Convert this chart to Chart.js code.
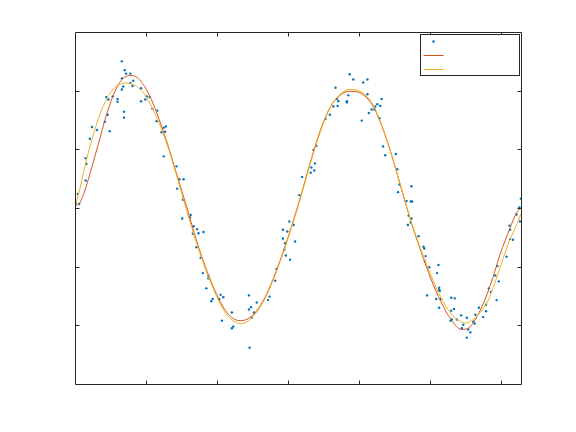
<!DOCTYPE html>
<html>
<head>
<meta charset="utf-8">
<script src="https://cdn.jsdelivr.net/npm/chart.js@4/dist/chart.umd.min.js"></script>
<style>
html,body{margin:0;padding:0;background:#fff;}
#wrap{width:576px;height:432px;}
</style>
</head>
<body>
<div id="wrap"><canvas id="c" width="576" height="432"></canvas></div>
<script>
// Scatter data
const xData = [0.01,0.04,0.06,0.15,0.16,0.15,0.21,0.24,0.31,0.42,
0.49,0.44,0.46,0.47,0.53,0.60,0.60,0.66,0.66,0.70,
0.72,0.78,0.66,0.68,0.69,0.69,0.78,0.82,0.81,0.93,
0.93,0.99,1.01,1.05,1.09,1.16,1.15,1.25,1.28,1.27,
1.22,1.25,1.43,1.47,1.53,1.44,1.52,1.51,1.63,1.62,
1.67,1.72,1.74,1.81,1.66,1.71,1.77,1.80,1.88,1.88,
1.85,1.94,1.92,2.03,2.05,2.09,2.07,2.21,2.21,2.23,
2.45,2.48,2.45,2.52,2.49,2.56,2.46,2.72,2.74,2.82,
2.84,2.93,2.93,2.96,2.95,2.97,3.03,2.99,3.02,3.08,
3.10,3.16,3.20,3.32,3.33,3.37,3.38,3.36,3.40,3.53,
3.59,3.64,3.70,3.69,3.71,3.67,3.83,3.85,3.83,3.87,
3.92,4.06,4.12,4.12,4.14,4.04,4.18,4.22,4.23,4.26,
4.30,4.32,4.29,4.34,4.37,4.52,4.54,4.57,4.55,4.74,
4.67,4.73,4.75,4.70,4.69,4.74,4.73,4.84,4.91,4.92,
4.94,4.93,4.99,4.96,5.10,5.12,5.13,5.13,5.14,5.09,
5.13,5.15,5.30,5.35,5.30,5.34,5.31,5.29,5.38,5.44,
5.47,5.52,5.45,5.54,5.52,5.57,5.64,5.61,5.63,5.69,
5.75,5.79,5.79,5.83,5.86,5.94,5.92,5.95,5.97,6.08,
6.13,6.12,6.13,6.17,6.22,6.26,6.28,6.27];
const yData = [0.08,0.24,0.07,0.85,0.75,0.47,1.18,1.38,1.33,1.47,
1.31,1.89,1.59,1.85,1.90,1.86,1.81,2.50,2.21,2.35,
2.29,2.29,2.02,2.07,1.64,1.54,2.13,2.17,2.08,2.04,
1.82,1.85,1.90,1.89,1.69,1.66,1.48,1.37,1.39,1.30,
1.29,0.88,0.71,0.49,0.49,0.33,0.14,-0.18,-0.12,-0.16,
-0.31,-0.36,-0.43,-0.41,-0.44,-0.67,-0.85,-1.11,-1.16,-1.20,
-1.37,-1.55,-1.59,-1.55,-1.48,-1.52,-1.92,-1.78,-2.05,-2.02,
-1.49,-1.69,-1.73,-1.78,-1.87,-1.61,-2.38,-1.57,-1.51,-1.24,
-1.04,-0.37,-0.52,-0.60,-0.71,-0.81,-0.88,-0.40,-0.23,-0.29,
-0.57,0.22,0.53,0.60,0.69,0.64,0.76,0.99,1.06,1.52,
1.59,1.73,1.74,1.86,1.82,2.05,1.80,1.92,1.82,2.28,
2.19,2.14,2.19,1.94,1.62,1.49,1.68,1.68,1.73,1.77,
1.74,1.86,1.53,1.05,0.90,0.92,0.66,0.40,0.27,0.37,
0.12,0.11,0.11,-0.13,-0.29,-0.18,-0.25,-0.48,-0.66,-0.69,
-0.82,-0.91,-1.01,-1.49,-1.11,-0.97,-1.36,-1.40,-1.41,-1.55,
-1.70,-1.55,-1.53,-1.54,-1.75,-1.72,-1.90,-1.92,-1.90,-1.83,
-1.99,-1.87,-2.05,-2.07,-2.21,-2.12,-1.82,-1.94,-1.97,-1.70,
-1.86,-1.76,-1.65,-1.37,-1.43,-1.57,-1.15,-0.99,-1.25,-0.83,
-0.53,-0.30,-0.37,-0.54,-0.11,0.01,0.16,-0.23];

// Fit curve 1 (red)
const redX = [0.000,0.066,0.137,0.207,0.278,0.349,0.419,0.490,0.560,0.630,0.701,0.785,0.870,0.954,1.053,1.152,1.293,1.434,1.575,1.716,1.857,1.998,2.110,2.223,2.336,2.449,2.561,2.674,2.787,2.900,3.041,3.182,3.323,3.464,3.605,3.746,3.859,3.972,4.084,4.197,4.310,4.451,4.592,4.733,4.874,5.015,5.156,5.297,5.445,5.551,5.664,5.776,5.847,5.917,5.988,6.058,6.129,6.213,6.283];
const redY = [0.03,0.09,0.29,0.57,0.87,1.18,1.49,1.76,1.98,2.14,2.23,2.26,2.23,2.12,1.91,1.62,1.13,0.57,0.01,-0.57,-1.07,-1.48,-1.73,-1.88,-1.92,-1.88,-1.75,-1.53,-1.22,-0.86,-0.35,0.21,0.81,1.35,1.74,1.93,1.99,1.98,1.91,1.74,1.44,0.94,0.35,-0.23,-0.74,-1.21,-1.60,-1.90,-2.07,-2.04,-1.85,-1.56,-1.33,-1.07,-0.79,-0.56,-0.34,-0.10,0.01];

// Fit curve 2 (orange)
const orangeX = [0.000,0.066,0.137,0.207,0.278,0.349,0.419,0.490,0.574,0.658,0.729,0.813,0.912,1.011,1.152,1.293,1.434,1.575,1.716,1.857,1.998,2.110,2.223,2.336,2.449,2.561,2.674,2.787,2.900,3.041,3.182,3.323,3.464,3.605,3.746,3.859,3.972,4.084,4.197,4.310,4.451,4.592,4.733,4.874,5.015,5.156,5.297,5.410,5.509,5.608,5.678,5.749,5.819,5.890,5.960,6.031,6.101,6.172,6.228,6.283];
const orangeY = [0.04,0.31,0.70,1.03,1.33,1.59,1.79,1.95,2.07,2.12,2.13,2.11,2.03,1.88,1.54,1.10,0.54,-0.05,-0.61,-1.10,-1.51,-1.77,-1.92,-1.97,-1.92,-1.77,-1.55,-1.24,-0.88,-0.37,0.19,0.79,1.33,1.74,1.95,2.02,2.01,1.93,1.76,1.45,0.94,0.36,-0.22,-0.71,-1.15,-1.53,-1.80,-1.92,-1.96,-1.90,-1.82,-1.72,-1.58,-1.36,-1.12,-0.86,-0.62,-0.42,-0.27,-0.10];

// Axis ticks
const xTicks = [1,2,3,4,5,6];
const yTicks = [-2,-1,0,1,2];
const xMin = 0, xMax = 2*Math.PI, yMin = -3, yMax = 3;

const BLUE = '#0072BD', RED = '#D95319', ORANGE = '#EDB120', AX = '#262626';

const pts = (xs, ys) => xs.map((x,i)=>({x:x, y:ys[i]}));

const framePlugin = {
  id: 'frame',
  afterDraw(chart){
    const ctx = chart.ctx, a = chart.chartArea;
    const xs = chart.scales.x, ys = chart.scales.y;
    ctx.save();
    ctx.strokeStyle = AX; ctx.lineWidth = 1;
    const L = Math.round(a.left)+0.5, R = Math.round(a.right)+0.5;
    const T = Math.round(a.top)+0.5, B = Math.round(a.bottom)+0.5;
    ctx.beginPath();
    ctx.rect(L, T, R-L, B-T);
    const tl = 4;
    xTicks.forEach(v=>{
      const p = Math.round(xs.getPixelForValue(v))+0.5;
      ctx.moveTo(p,B); ctx.lineTo(p,B-tl);
      ctx.moveTo(p,T); ctx.lineTo(p,T+tl);
    });
    yTicks.forEach(v=>{
      const p = Math.round(ys.getPixelForValue(v))+0.5;
      ctx.moveTo(L,p); ctx.lineTo(L+tl,p);
      ctx.moveTo(R,p); ctx.lineTo(R-tl,p);
    });
    ctx.stroke();

    // legend box (no label text in the reference)
    const lw = 99, lh = 41;
    const lx = R - 2 - lw, ly = T + 2;
    ctx.fillStyle = '#fff';
    ctx.fillRect(lx, ly, lw, lh);
    ctx.strokeStyle = AX;
    ctx.strokeRect(lx, ly, lw, lh);
    ctx.fillStyle = BLUE;
    ctx.beginPath(); ctx.arc(lx+13, ly+7, 1.2, 0, 2*Math.PI); ctx.fill();
    ctx.lineWidth = 1;
    ctx.strokeStyle = RED;
    ctx.beginPath(); ctx.moveTo(lx+3, ly+21); ctx.lineTo(lx+23, ly+21); ctx.stroke();
    ctx.strokeStyle = ORANGE;
    ctx.beginPath(); ctx.moveTo(lx+3, ly+35); ctx.lineTo(lx+23, ly+35); ctx.stroke();
    ctx.restore();
  }
};

new Chart(document.getElementById('c'), {
  type: 'scatter',
  data: {
    datasets: [
      { label: 'data', data: pts(xData, yData), backgroundColor: BLUE, borderColor: BLUE,
        pointRadius: 1.2, pointBorderWidth: 0, showLine: false, order: 3 },
      { label: 'fit1', type: 'line', data: pts(redX, redY), borderColor: RED, borderWidth: 1,
        pointRadius: 0, fill: false, cubicInterpolationMode: 'monotone', order: 2 },
      { label: 'fit2', type: 'line', data: pts(orangeX, orangeY), borderColor: ORANGE, borderWidth: 1,
        pointRadius: 0, fill: false, cubicInterpolationMode: 'monotone', order: 1 }
    ]
  },
  options: {
    responsive: false,
    devicePixelRatio: 1,
    animation: false,
    layout: { padding: { left: 75, right: 55, top: 32, bottom: 48 } },
    plugins: { legend: { display: false }, tooltip: { enabled: false } },
    scales: {
      x: { type: 'linear', min: xMin, max: xMax, display: false },
      y: { type: 'linear', min: yMin, max: yMax, display: false }
    }
  },
  plugins: [framePlugin]
});
</script>
</body>
</html>
